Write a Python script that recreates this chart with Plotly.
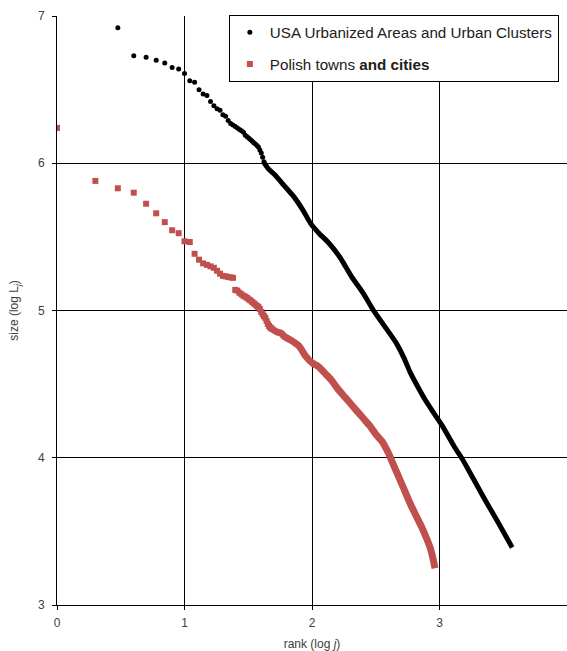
import numpy as np
import plotly.graph_objects as go

# ---- USA Urbanized Areas and Urban Clusters ----
# individually visible points: rank j and log10 size
usa_rank = [3, 4, 5, 6, 7, 8, 9, 10, 11, 12, 13, 14, 15, 16, 17, 18, 19, 20,
            21, 22, 23, 24, 25, 26, 27, 28, 29, 30, 31, 32, 33, 34, 35, 36,
            37, 38, 39, 40, 41, 42]
usa_size = [6.92, 6.73, 6.72, 6.70, 6.68, 6.65, 6.64, 6.61, 6.56, 6.55, 6.50,
            6.47, 6.46, 6.42, 6.39, 6.37, 6.36, 6.33, 6.32, 6.29, 6.27, 6.26,
            6.25, 6.24, 6.23, 6.22, 6.21, 6.19, 6.18, 6.17, 6.16, 6.15, 6.14,
            6.13, 6.12, 6.11, 6.09, 6.07, 6.04, 6.01]
# dense tail (log rank, log size) read along the band
usa_tail_logrank = [1.62, 1.66, 1.71, 1.78, 1.86, 1.93, 1.99, 2.06, 2.13, 2.22,
                    2.31, 2.40, 2.49, 2.58, 2.66, 2.72, 2.77, 2.80, 2.89, 2.95,
                    3.02, 3.12, 3.18, 3.27, 3.36, 3.46, 3.57]
usa_tail_size = [6.01, 5.96, 5.92, 5.85, 5.77, 5.68, 5.59, 5.52, 5.46, 5.36,
                 5.23, 5.12, 4.99, 4.88, 4.78, 4.68, 4.58, 4.53, 4.39, 4.31,
                 4.22, 4.07, 3.99, 3.85, 3.71, 3.56, 3.39]

# ---- Polish towns and cities ----
pol_rank = [1, 2, 3, 4, 5, 6, 7, 8, 9, 10, 11, 12, 13, 14, 15, 16, 17, 18, 19,
            20, 21, 22, 23, 24, 25, 26, 27, 28, 29, 30, 31, 32, 33, 34, 35, 36,
            37, 38, 39, 40, 41, 42, 43, 44, 45, 46, 47, 48]
pol_size = [6.24, 5.88, 5.83, 5.80, 5.725, 5.66, 5.60, 5.545, 5.525, 5.47,
            5.465, 5.385, 5.345, 5.32, 5.31, 5.30, 5.29, 5.27, 5.25, 5.235,
            5.232, 5.228, 5.225, 5.222, 5.14, 5.135, 5.12, 5.11, 5.10, 5.094,
            5.085, 5.075, 5.068, 5.058, 5.048, 5.04, 5.03, 5.025, 5.01, 4.99,
            4.975, 4.962, 4.95, 4.93, 4.91, 4.895, 4.885, 4.878]
pol_tail_logrank = [1.68, 1.72, 1.76, 1.78, 1.84, 1.90, 1.95, 2.00, 2.05, 2.10,
                    2.15, 2.20, 2.26, 2.31, 2.36, 2.41, 2.46, 2.50, 2.55, 2.60,
                    2.63, 2.67, 2.70, 2.74, 2.78, 2.82, 2.86, 2.90, 2.93, 2.95,
                    2.965]
pol_tail_size = [4.878, 4.856, 4.845, 4.825, 4.795, 4.757, 4.69, 4.645, 4.62,
                 4.575, 4.53, 4.47, 4.41, 4.36, 4.31, 4.26, 4.21, 4.16, 4.11,
                 4.03, 3.97, 3.89, 3.83, 3.75, 3.67, 3.60, 3.53, 3.45, 3.38,
                 3.31, 3.25]

x_ticks = [0, 1, 2, 3, 4]
y_ticks = [3, 4, 5, 6, 7]

RED = "#C0504D"
BLACK = "#000000"

fig = go.Figure()

fig.add_trace(go.Scatter(
    x=np.log10(usa_rank), y=usa_size, mode="markers",
    marker=dict(symbol="circle", size=5, color=BLACK),
    name="USA Urbanized Areas and Urban Clusters",
    legendgroup="usa", showlegend=True))
fig.add_trace(go.Scatter(
    x=usa_tail_logrank, y=usa_tail_size, mode="lines",
    line=dict(color=BLACK, width=5, shape="spline", smoothing=0.6),
    legendgroup="usa", showlegend=False))

fig.add_trace(go.Scatter(
    x=np.log10(pol_rank), y=pol_size, mode="markers",
    marker=dict(symbol="square", size=6, color=RED),
    name="Polish towns <b>and cities</b>",
    legendgroup="pol", showlegend=True))
fig.add_trace(go.Scatter(
    x=pol_tail_logrank, y=pol_tail_size, mode="lines",
    line=dict(color=RED, width=7, shape="spline", smoothing=0.6),
    legendgroup="pol", showlegend=False))

axis_font = dict(family="Liberation Sans, Arial, sans-serif", size=12, color="#404040")

fig.update_layout(
    width=567, height=651,
    margin=dict(l=57, r=0, t=16, b=46, autoexpand=False),
    paper_bgcolor="white", plot_bgcolor="white",
    font=dict(family="Liberation Sans, Arial, sans-serif"),
    legend=dict(
        x=0.337, y=1.002, xanchor="left", yanchor="top",
        bgcolor="white", bordercolor="#000000", borderwidth=1,
        font=dict(family="Liberation Sans, Arial, sans-serif", size=15.2, color="#202020"),
        tracegroupgap=9, traceorder="grouped",
    ),
    xaxis=dict(
        range=[0, 4], tickvals=x_ticks, ticktext=[str(v) for v in x_ticks],
        showgrid=True, gridcolor="#000000", gridwidth=1,
        showline=True, linecolor="#000000", linewidth=1,
        ticks="outside", ticklen=4, tickcolor="#000000",
        zeroline=False, tickfont=axis_font, ticklabelstandoff=3,
        title=dict(text="rank (log <i>j</i>)", font=axis_font, standoff=10),
    ),
    yaxis=dict(
        range=[3, 7], tickvals=y_ticks, ticktext=[str(v) for v in y_ticks],
        showgrid=True, gridcolor="#000000", gridwidth=1,
        showline=True, linecolor="#000000", linewidth=1,
        ticks="outside", ticklen=4, tickcolor="#000000",
        zeroline=False, tickfont=axis_font, ticklabelstandoff=5,
        title=dict(text="size (log L<sub><i>j</i></sub>)", font=axis_font, standoff=16),
    ),
)

fig.write_html("out.html",
               config={"displayModeBar": False},
               post_script="document.body.style.margin='0px';document.body.style.overflow='hidden';")
